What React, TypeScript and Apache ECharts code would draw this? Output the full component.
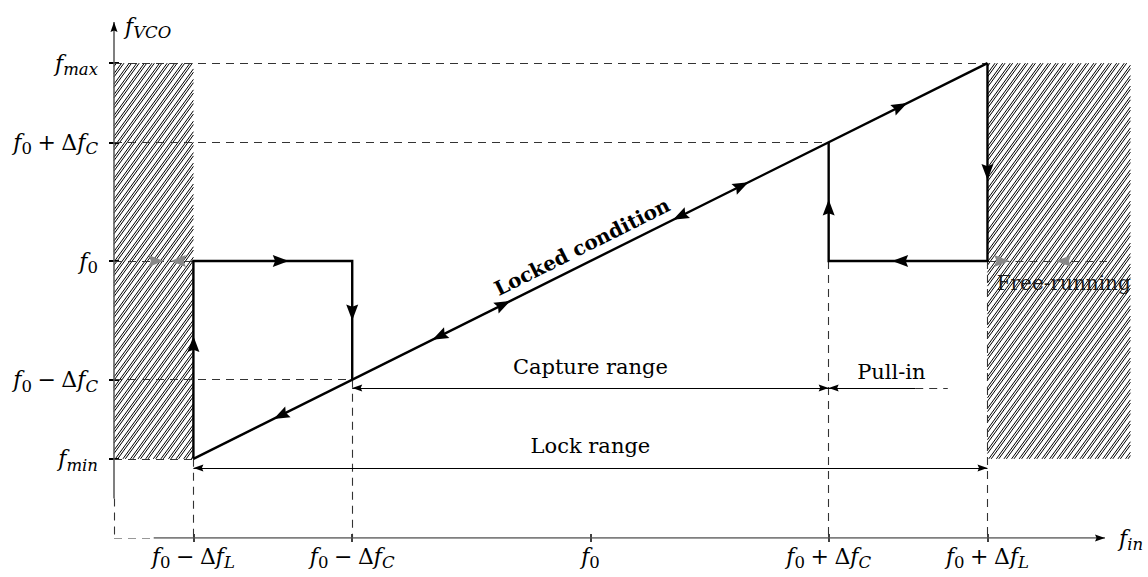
import React, { useEffect, useRef } from 'react';
import * as echarts from 'echarts';

const FONT = 'DejaVu Serif';

// Data units: offsets from f0 (Δf_L = 5, Δf_C = 3 on both axes)
const xExtent = [-6, 6.48];
const yExtent = [-7, 6.04];

const xTickValues = [-5, -3, 0, 3, 5];
const xTickLabels = [
  '{i|f}{s|0}\u2005−\u2005Δ{i|f}{si|L}',
  '{i|f}{s|0}\u2005−\u2005Δ{i|f}{si|C}',
  '{i|f}{s|0}',
  '{i|f}{s|0}\u2005+\u2005Δ{i|f}{si|C}',
  '{i|f}{s|0}\u2005+\u2005Δ{i|f}{si|L}',
];
const yTickValues = [-5, -3, 0, 3, 5];
const yTickLabels = [
  '{i|f}{si|min}',
  '{i|f}{s|0}\u2005−\u2005Δ{i|f}{si|C}',
  '{i|f}{s|0}',
  '{i|f}{s|0}\u2005+\u2005Δ{i|f}{si|C}',
  '{i|f}{si|max}',
];
const xAxisTitle = '{i|f}{si|in}';
const yAxisTitle = '{i|f}{si|VCO}';

// characteristic (f_VCO vs f_in)
const lockedLine = [[-5, -5], [5, 5]];
const lowerLoop = [[-5, -5], [-5, 0], [-3, 0], [-3, -3]];
const upperLoop = [[5, 5], [5, 0], [3, 0], [3, 3]];

// dashed guide lines
const guideLines = [
  [[-6, 5], [5, 5]],
  [[-6, 3], [3, 3]],
  [[-6, 0], [-5, 0]],
  [[5, 0], [6.8, 0]],
  [[-6, -3], [-3, -3]],
  [[-6, -5], [-5, -5]],
  [[-5, -5], [-5, -7]],
  [[-3, -3], [-3, -7]],
  [[3, 0], [3, -7]],
  [[5, 0], [5, -7]],
  [[-6, -6], [-6, -7]],
  [[-6, -7], [-5.5, -7]],
  [[4.09, -3.21], [4.5, -3.21]],
];
const axisLinesSolid = [
  [[-5.5, -7], [6.48, -7]],
  [[-6, -6], [-6, 6.04]],
];
const captureSpan = [-3, 3];
const lockSpan = [-5, 5];
const pullInSpan = [3, 4.09];
const captureLevel = -3.21;
const lockLevel = -5.23;
const rangeLines = [
  [[captureSpan[0], captureLevel], [captureSpan[1], captureLevel]],
  [[lockSpan[0], lockLevel], [lockSpan[1], lockLevel]],
  [[pullInSpan[0], captureLevel], [pullInSpan[1], captureLevel]],
];
// arrow heads anchored at their tip: [x, y, dx, dy]
const tipArrows = [
  [captureSpan[0], captureLevel, -1, 0],
  [captureSpan[1], captureLevel, 1, 0],
  [lockSpan[0], lockLevel, -1, 0],
  [lockSpan[1], lockLevel, 1, 0],
  [pullInSpan[0], captureLevel, -1, 0],
  [6.48, -7, 1, 0],
  [-6, 6.04, 0, 1],
];

// hatched (unlockable) areas: [x1, y1, x2, y2]
const hatchAreas = [
  [-6, -5, -5, 5],
  [5, -5, 6.8, 5],
];

// flow arrows centred on the path: [x, y, dx, dy]
const flowArrows = [
  [-5, -2.1, 0, 1],
  [-3.9, 0, 1, 0],
  [-3, -1.3, 0, -1],
  [-3.9, -3.9, -1, -1],
  [-1.9, -1.9, -1, -1],
  [-1.1, -1.1, 1, 1],
  [1.13, 1.13, -1, -1],
  [1.9, 1.9, 1, 1],
  [3.9, 3.9, 1, 1],
  [5, 2.25, 0, -1],
  [3.9, 0, -1, 0],
  [3, 1.35, 0, 1],
];
const freeRunArrows = [
  [-5.47, 0, 1, 0],
  [-5.19, 0, -1, 0],
  [5.18, 0, 1, 0],
  [5.96, 0, -1, 0],
];

const textNotes = [
  { name: 'Capture range', value: [0, -2.68] },
  { name: 'Lock range', value: [0, -4.68] },
  { name: 'Pull-in', value: [3.79, -2.8] },
];
const freeRunNote = [{ name: 'Free-running', value: [5.96, -0.56] }];
const lockedNote = [{ name: 'Locked condition', value: [-0.106, 0.36] }];

const mathRich = {
  i: { fontFamily: FONT, fontStyle: 'italic', fontSize: 22, color: '#000' },
  s: { fontFamily: FONT, fontSize: 16.5, padding: [13, 0, 0, 0], color: '#000' },
  si: { fontFamily: FONT, fontStyle: 'italic', fontSize: 16.5, padding: [13, 0, 0, 0], color: '#000' },
};

function arrowRenderer(color: string, L: number, W: number, anchorTip: boolean) {
  return (params: any, api: any) => {
    const x = api.value(0), y = api.value(1), dx = api.value(2), dy = api.value(3);
    const p = api.coord([x, y]);
    const q = api.coord([x + dx * 0.1, y + dy * 0.1]);
    let ux = q[0] - p[0], uy = q[1] - p[1];
    const n = Math.hypot(ux, uy) || 1;
    ux /= n; uy /= n;
    const vx = -uy, vy = ux;
    const cx = anchorTip ? p[0] - ux * L / 2 : p[0];
    const cy = anchorTip ? p[1] - uy * L / 2 : p[1];
    const tip = [cx + ux * L / 2, cy + uy * L / 2];
    const bx = cx - ux * L / 2, by = cy - uy * L / 2;
    const b1 = [bx + vx * W / 2, by + vy * W / 2];
    const b2 = [bx - vx * W / 2, by - vy * W / 2];
    const nb = [cx - ux * (L / 2 - L * 0.15), cy - uy * (L / 2 - L * 0.15)];
    return { type: 'polygon', shape: { points: [tip, b1, nb, b2] }, style: { fill: color } };
  };
}

function hatchRenderer(params: any, api: any) {
  const tl = api.coord([api.value(0), api.value(3)]);
  const br = api.coord([api.value(2), api.value(1)]);
  const xL = tl[0], yT = tl[1], xR = br[0], yB = br[1];
  const H = yB - yT;
  const t = Math.tan((54 * Math.PI) / 180);
  const step = 7.6;
  const children: any[] = [];
  for (let c = xL - H / t - step; c <= xR; c += step) {
    for (const off of [0, 2.4]) {
      const cc = c + off;
      const h0 = Math.max(0, (xL - cc) * t);
      const h1 = Math.min(H, (xR - cc) * t);
      if (h1 > h0) {
        children.push({
          type: 'line',
          shape: { x1: cc + h0 / t, y1: yB - h0, x2: cc + h1 / t, y2: yB - h1 },
          style: { stroke: '#000', lineWidth: 1 },
        });
      }
    }
  }
  return { type: 'group', children };
}

function noteSeries(name: string, data: any[], label: any) {
  return {
    type: 'scatter',
    name,
    data,
    symbolSize: 1,
    itemStyle: { color: 'rgba(0,0,0,0)', opacity: 1 },
    label: {
      show: true, position: 'inside', formatter: '{b}', fontFamily: FONT, fontSize: 21,
      color: '#000', opacity: 1, textBorderWidth: 0, ...label,
    },
    z: 7,
    silent: true,
  };
}

function buildOption() {
  const baseAxis = {
    type: 'value',
    splitLine: { show: false },
  };
  return {
    animation: false,
    backgroundColor: '#fff',
    grid: { left: 114, top: 22, width: 991, height: 516, containLabel: false, outerBoundsMode: 'none' },
    xAxis: [
      {
        ...baseAxis,
        min: xExtent[0],
        max: xExtent[1],
        position: 'bottom',
        axisLine: { show: false, onZero: false },
        axisTick: { show: true, customValues: xTickValues, length: 4, lineStyle: { color: '#000', width: 1.5 } },
        axisLabel: {
          customValues: xTickValues,
          formatter: (v: number) => xTickLabels[xTickValues.indexOf(v)] ?? '',
          margin: 3,
          fontFamily: FONT,
          fontSize: 22,
          color: '#000',
          rich: mathRich,
        },
        name: xAxisTitle,
        nameLocation: 'end',
        nameGap: 14,
        nameTextStyle: { fontFamily: FONT, fontSize: 22, color: '#000', rich: mathRich },
      },
      {
        ...baseAxis,
        min: xExtent[0],
        max: xExtent[1],
        position: 'bottom',
        axisLine: { show: false, onZero: false },
        axisTick: { show: true, inside: true, customValues: xTickValues, length: 4, lineStyle: { color: '#000', width: 1.5 } },
        axisLabel: { show: false },
      },
    ],
    yAxis: [
      {
        ...baseAxis,
        min: yExtent[0],
        max: yExtent[1],
        position: 'left',
        axisLine: { show: false, onZero: false },
        axisTick: { show: true, customValues: yTickValues, length: 5, lineStyle: { color: '#000', width: 2 } },
        axisLabel: {
          customValues: yTickValues,
          formatter: (v: number) => yTickLabels[yTickValues.indexOf(v)] ?? '',
          margin: 16,
          fontFamily: FONT,
          fontSize: 22,
          color: '#000',
          rich: mathRich,
        },
        name: yAxisTitle,
        nameLocation: 'end',
        nameGap: -4,
        nameTextStyle: {
          fontFamily: FONT, fontSize: 22, color: '#000', rich: mathRich,
          align: 'left', verticalAlign: 'middle', padding: [0, 0, 0, 11],
        },
      },
      {
        ...baseAxis,
        min: yExtent[0],
        max: yExtent[1],
        position: 'left',
        axisLine: { show: false, onZero: false },
        axisTick: { show: true, inside: true, customValues: yTickValues, length: 5, lineStyle: { color: '#000', width: 2 } },
        axisLabel: { show: false },
      },
    ],
    series: [
      {
        type: 'custom',
        name: 'hatch',
        renderItem: hatchRenderer,
        data: hatchAreas,
        encode: { x: [0, 2], y: [1, 3] },
        z: 1,
        silent: true,
      },
      {
        type: 'lines',
        name: 'guides',
        coordinateSystem: 'cartesian2d',
        data: guideLines.map((c) => ({ coords: c })),
        lineStyle: { color: '#333', width: 1.1, type: [8, 6], opacity: 1 },
        z: 2,
        silent: true,
      },
      {
        type: 'lines',
        name: 'axes',
        coordinateSystem: 'cartesian2d',
        data: axisLinesSolid.map((c) => ({ coords: c })),
        lineStyle: { color: '#555', width: 1.5, opacity: 1 },
        z: 3,
        silent: true,
      },
      {
        type: 'lines',
        name: 'ranges',
        coordinateSystem: 'cartesian2d',
        data: rangeLines.map((c) => ({ coords: c })),
        lineStyle: { color: '#000', width: 1.1, opacity: 1 },
        z: 3,
        silent: true,
      },
      {
        type: 'lines',
        name: 'characteristic',
        coordinateSystem: 'cartesian2d',
        polyline: true,
        data: [lockedLine, lowerLoop, upperLoop].map((c) => ({ coords: c })),
        lineStyle: { color: '#000', width: 2.4, opacity: 1, join: 'miter' },
        z: 5,
        silent: true,
      },
      {
        type: 'custom',
        name: 'flowArrows',
        renderItem: arrowRenderer('#000', 16, 12, false),
        data: flowArrows,
        encode: { x: 0, y: 1 },
        z: 6,
        silent: true,
      },
      {
        type: 'custom',
        name: 'freeRunArrows',
        renderItem: arrowRenderer('#888', 15, 12, false),
        data: freeRunArrows,
        encode: { x: 0, y: 1 },
        z: 6,
        silent: true,
      },
      {
        type: 'custom',
        name: 'tipArrows',
        renderItem: arrowRenderer('#000', 10, 7, true),
        data: tipArrows,
        encode: { x: 0, y: 1 },
        z: 6,
        silent: true,
      },
      noteSeries('notes', textNotes, {}),
      noteSeries('freeRun', freeRunNote, { color: '#1a1a1a', fontSize: 20 }),
      noteSeries('locked', lockedNote, { rotate: 26.6, fontWeight: 'bold', fontSize: 20 }),
    ],
  };
}

export default function App() {
  const ref = useRef<HTMLDivElement>(null);
  useEffect(() => {
    if (!ref.current) return;
    const chart = echarts.init(ref.current, null, { renderer: 'svg' });
    chart.setOption(buildOption() as any);
    return () => chart.dispose();
  }, []);
  return (
    <div
      ref={ref}
      style={{ position: 'absolute', left: 0, top: 0, width: 1148, height: 577, background: '#fff' }}
    />
  );
}
